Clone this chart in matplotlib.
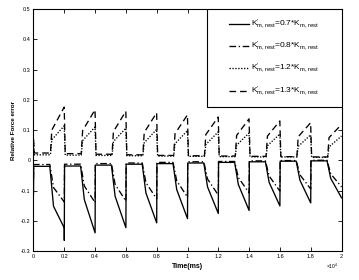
import matplotlib
matplotlib.use('Agg')
import matplotlib.pyplot as plt
from matplotlib.patches import Rectangle
from matplotlib.ticker import FuncFormatter

plt.rcParams['font.family'] = ['Liberation Sans', 'DejaVu Sans']
plt.rcParams['mathtext.fontset'] = 'custom'
plt.rcParams['mathtext.rm'] = 'Liberation Sans'
plt.rcParams['mathtext.it'] = 'Liberation Sans:italic'
plt.rcParams['mathtext.bf'] = 'Liberation Sans:bold'

# ---------------- data (time in ms) ----------------
cycle_start_ms = [0, 2000, 4000, 6000, 8000, 10000, 12000, 14000, 16000, 18000]
# phase times inside each cycle (ms): plateau start, plateau end, knee, end of cycle
neg_phase_ms = [15, 1060, 1300, 2000]
pos_phase_ms = [60, 1100, 1190, 1995]

# K' = 0.7 K (solid)
k07_start = -0.11
k07_plateau = [-0.020, -0.019, -0.016, -0.013, -0.011, -0.009, -0.007, -0.005, -0.003, -0.002]
k07_knee = [-0.152, -0.130, -0.119, -0.108, -0.097, -0.088, -0.080, -0.073, -0.066, -0.060]
k07_trough = [-0.224, -0.240, -0.223, -0.207, -0.193, -0.176, -0.166, -0.151, -0.141, -0.124]
k07_spike_ms = [2000]
k07_spike = [-0.265]

# K' = 0.8 K (dash-dot)
k08_start = -0.06
k08_plateau = [-0.014, -0.013, -0.011, -0.009, -0.007, -0.005, -0.004, -0.002, -0.001, 0.000]
k08_knee = [-0.090, -0.085, -0.080, -0.074, -0.068, -0.062, -0.057, -0.052, -0.048, -0.045]
k08_trough = [-0.138, -0.140, -0.135, -0.128, -0.122, -0.115, -0.108, -0.102, -0.095, -0.088]

# K' = 1.2 K (dotted)
k12_start = 0.068
k12_plateau = [0.018, 0.017, 0.016, 0.015, 0.014, 0.013, 0.012, 0.011, 0.011, 0.010]
k12_knee = [0.068, 0.065, 0.062, 0.058, 0.055, 0.052, 0.050, 0.048, 0.046, 0.044]
k12_peak = [0.114, 0.110, 0.106, 0.102, 0.098, 0.094, 0.090, 0.087, 0.084, 0.080]

# K' = 1.3 K (dashed)
k13_start = 0.068
k13_plateau = [0.024, 0.022, 0.020, 0.018, 0.016, 0.015, 0.014, 0.013, 0.012, 0.011]
k13_knee = [0.100, 0.098, 0.095, 0.092, 0.088, 0.085, 0.082, 0.080, 0.078, 0.075]
k13_peak = [0.176, 0.167, 0.162, 0.157, 0.150, 0.143, 0.137, 0.130, 0.124, 0.118]

labels = [
    r'$\mathrm{K}^{\prime}_{\mathrm{m,rest}}$=0.7*$\mathrm{K}_{\mathrm{m,rest}}$',
    r'$\mathrm{K}^{\prime}_{\mathrm{m,rest}}$=0.8*$\mathrm{K}_{\mathrm{m,rest}}$',
    r'$\mathrm{K}^{\prime}_{\mathrm{m,rest}}$=1.2*$\mathrm{K}_{\mathrm{m,rest}}$',
    r'$\mathrm{K}^{\prime}_{\mathrm{m,rest}}$=1.3*$\mathrm{K}_{\mathrm{m,rest}}$',
]
x_ticks_ms = [0, 2000, 4000, 6000, 8000, 10000, 12000, 14000, 16000, 18000, 20000]
y_ticks = [-0.3, -0.2, -0.1, 0.0, 0.1, 0.2, 0.3, 0.4, 0.5]


def build(start_val, phase, plateau, knee, end, extra_t=(), extra_v=()):
    t = [0]
    y = [start_val]
    for i, s in enumerate(cycle_start_ms):
        vals = [plateau[i], plateau[i], knee[i], end[i]]
        for p, v in zip(phase, vals):
            t.append(s + p)
            y.append(v)
        for et, ev in zip(extra_t, extra_v):
            if s < et <= s + 2000:
                t.append(et)
                y.append(ev)
    return t, y


series = [
    (build(k07_start, neg_phase_ms, k07_plateau, k07_knee, k07_trough, k07_spike_ms, k07_spike), '-'),
    (build(k08_start, neg_phase_ms, k08_plateau, k08_knee, k08_trough), (0, (5, 2, 1, 2))),
    (build(k12_start, pos_phase_ms, k12_plateau, k12_knee, k12_peak), (0, (1, 1.2))),
    (build(k13_start, pos_phase_ms, k13_plateau, k13_knee, k13_peak), (0, (5, 3))),
]

fig = plt.figure(figsize=(3.59, 2.80), dpi=100, facecolor='white')
ax = fig.add_axes([0.0933, 0.1036, 0.858, 0.864])

for ((t, y), ls), lab in zip(series, labels):
    ax.plot(t, y, color='black', lw=0.95, linestyle=ls, label=lab)

ax.set_xlim(0, 20000)
ax.set_ylim(-0.3, 0.5)
ax.set_xticks(x_ticks_ms)
ax.set_yticks(y_ticks)
ax.xaxis.set_major_formatter(FuncFormatter(lambda v, p: f'{v / 1e4:g}'))
ax.yaxis.set_major_formatter(FuncFormatter(lambda v, p: f'{round(v, 1) + 0:g}'))
ax.tick_params(direction='in', length=3, width=0.6, top=True, right=True,
               labelsize=4, pad=2)
for sp in ax.spines.values():
    sp.set_linewidth(0.8)

ax.set_xlabel('Time(ms)', fontsize=5, fontweight='bold', labelpad=3)
ax.set_ylabel('Relative Force error', fontsize=4.5, fontweight='bold', labelpad=4)
ax.text(0.99, -0.062, r'$\times10^4$', transform=ax.transAxes, ha='right',
        va='center', fontsize=3.5)

ax.add_patch(Rectangle((0.562, 0.594), 0.438, 0.406, transform=ax.transAxes,
                       facecolor='white', edgecolor='black', lw=0.8, zorder=5))
leg = ax.legend(loc='center', bbox_to_anchor=(0.781, 0.797),
                bbox_transform=ax.transAxes, frameon=False, fontsize=6,
                labelspacing=1.0, handlelength=2.3, handletextpad=0.25)
leg.set_zorder(6)

fig.savefig('out.png', dpi=100, facecolor='white')
